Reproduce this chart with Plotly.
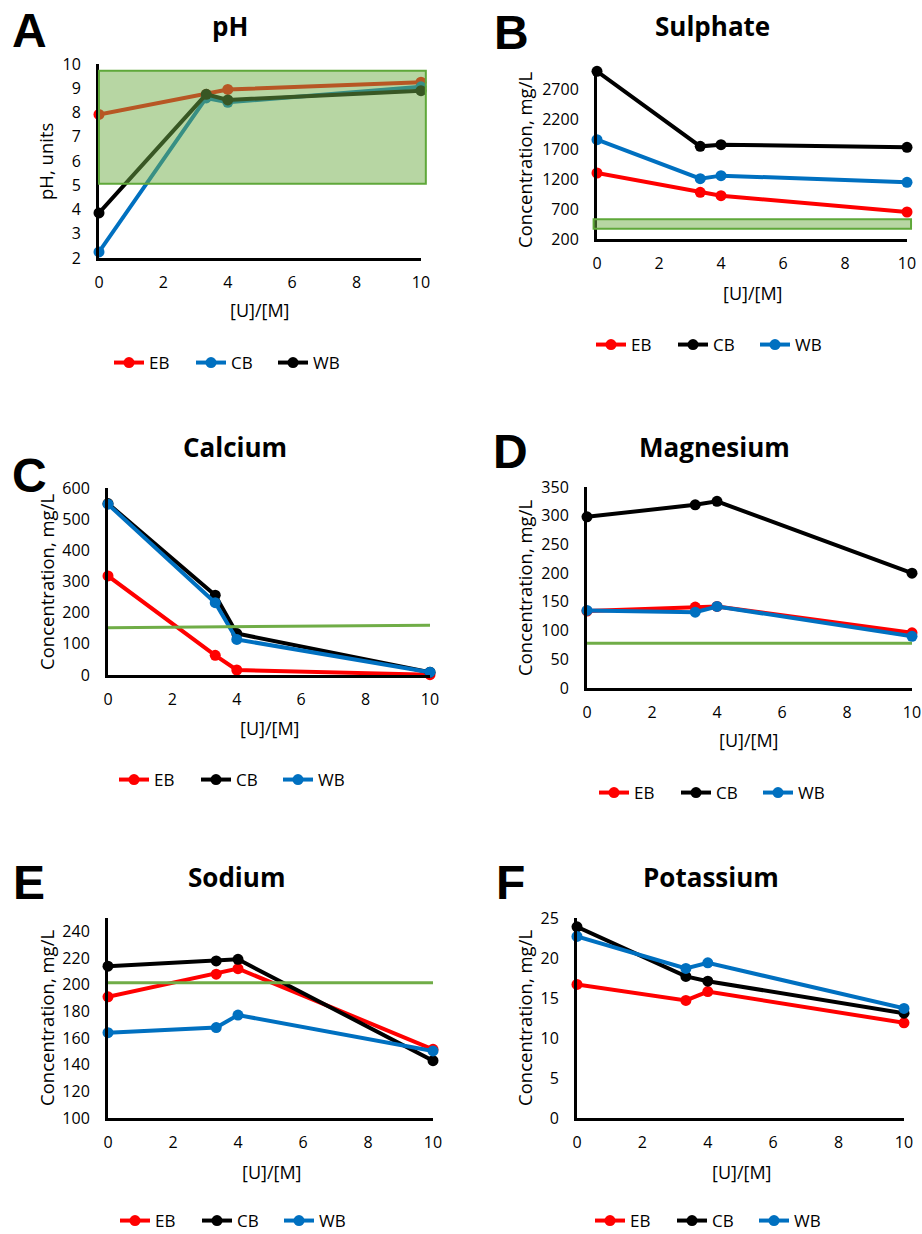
import plotly.graph_objects as go

W, H = 922, 1234
X = [0, 3.33, 4, 10]
SERIES = ["EB", "CB", "WB"]
XTICKS = [0, 2, 4, 6, 8, 10]

# Panel A - pH
ph_eb = [7.92, 8.75, 8.95, 9.25]
ph_cb = [2.25, 8.6, 8.42, 9.06]
ph_wb = [3.86, 8.75, 8.52, 8.9]
ph_band = [5.06, 9.72]
ph_ticks = [2, 3, 4, 5, 6, 7, 8, 9, 10]

# Panel B - Sulphate
so4_eb = [1300, 978, 922, 650]
so4_cb = [2994, 1744, 1772, 1728]
so4_wb = [1856, 1206, 1256, 1144]
so4_band = [370, 530]
so4_ticks = [200, 700, 1200, 1700, 2200, 2700]

# Panel C - Calcium
ca_eb = [318, 63, 16, 1]
ca_cb = [550, 256, 133, 9]
ca_wb = [548, 232, 114, 9]
ca_limit = [152, 160]
ca_ticks = [0, 100, 200, 300, 400, 500, 600]

# Panel D - Magnesium
mg_eb = [134, 141, 142, 96]
mg_cb = [298, 319, 325, 200]
mg_wb = [135, 132, 142, 90]
mg_limit = [78, 78]
mg_ticks = [0, 50, 100, 150, 200, 250, 300, 350]

# Panel E - Sodium
na_eb = [190.9, 207.9, 212.0, 151.5]
na_cb = [213.9, 217.8, 219.0, 143.0]
na_wb = [164.0, 167.8, 177.2, 150.3]
na_limit = [201.5, 201.5]
na_ticks = [100, 120, 140, 160, 180, 200, 220, 240]

# Panel F - Potassium
k_eb = [16.7, 14.7, 15.8, 11.9]
k_cb = [23.9, 17.7, 17.1, 13.1]
k_wb = [22.7, 18.7, 19.4, 13.7]
k_ticks = [0, 5, 10, 15, 20, 25]

RED, BLACK, BLUE, GREEN = "#ff0000", "#000000", "#0070c0", "#70ad47"
FONT = "Open Sans, Liberation Sans, Arial, sans-serif"

def px(x):
    return x / W

def py(y):
    return 1 - y / H

panels = [
    dict(letter="A", title="pH", ytitle="pH, units", vals=[ph_eb, ph_cb, ph_wb],
         colors=[RED, BLUE, BLACK], xd=(99, 421), yd=(258, 64), yr=[2, 10], yt=ph_ticks,
         lp=(29, 31), tp=(230, 26), xtp=(259, 310), ytp=(46, 162), lg=(232, 363)),
    dict(letter="B", title="Sulphate", ytitle="Concentration, mg/L", vals=[so4_eb, so4_cb, so4_wb],
         colors=[RED, BLACK, BLUE], xd=(597, 907), yd=(239, 68), yr=[200, 3050], yt=so4_ticks,
         lp=(511, 33), tp=(712, 26), xtp=(752, 293), ytp=(524, 160), lg=(714, 345)),
    dict(letter="C", title="Calcium", ytitle="Concentration, mg/L", vals=[ca_eb, ca_cb, ca_wb],
         colors=[RED, BLACK, BLUE], xd=(108, 430), yd=(675, 488), yr=[0, 600], yt=ca_ticks,
         lp=(29, 476), tp=(235, 447), xtp=(269, 728), ytp=(46, 582), lg=(237, 780)),
    dict(letter="D", title="Magnesium", ytitle="Concentration, mg/L", vals=[mg_eb, mg_cb, mg_wb],
         colors=[RED, BLACK, BLUE], xd=(587, 912), yd=(688, 487), yr=[0, 350], yt=mg_ticks,
         lp=(510, 452), tp=(714, 447), xtp=(748, 740), ytp=(524, 588), lg=(717, 793)),
    dict(letter="E", title="Sodium", ytitle="Concentration, mg/L", vals=[na_eb, na_cb, na_wb],
         colors=[RED, BLACK, BLUE], xd=(108, 433), yd=(1118, 918), yr=[100, 250], yt=na_ticks,
         lp=(29, 882), tp=(236, 877), xtp=(271, 1172), ytp=(46, 1018), lg=(238, 1221)),
    dict(letter="F", title="Potassium", ytitle="Concentration, mg/L", vals=[k_eb, k_cb, k_wb],
         colors=[RED, BLACK, BLUE], xd=(577, 904), yd=(1118, 918), yr=[0, 25], yt=k_ticks,
         lp=(510, 882), tp=(711, 877), xtp=(741, 1172), ytp=(524, 1018), lg=(713, 1221)),
]

fig = go.Figure()
layout = dict(width=W, height=H, margin=dict(l=0, r=0, t=0, b=0, autoexpand=False),
              template="none",
              paper_bgcolor="white", plot_bgcolor="white",
              font=dict(family=FONT, color="black", size=16),
              annotations=[], shapes=[])

def center_ann(text, pos, size, family=FONT, angle=0):
    return dict(text=text, x=px(pos[0]), y=py(pos[1]), xref="paper", yref="paper",
                xanchor="center", yanchor="middle", showarrow=False, textangle=angle,
                font=dict(size=size, family=family, color="black"))

for i, p in enumerate(panels, start=1):
    sx = "" if i == 1 else str(i)
    xa, ya = "x" + sx, "y" + sx
    lg = "legend" + sx
    for name, vals, col in zip(SERIES, p["vals"], p["colors"]):
        fig.add_trace(go.Scatter(
            x=X, y=vals, name=name, mode="lines+markers",
            line=dict(color=col, width=4), marker=dict(color=col, size=11),
            xaxis=xa, yaxis=ya, legend=lg, cliponaxis=False))
    axis_common = dict(showgrid=False, zeroline=False, showline=True, linecolor="black",
                       linewidth=3, ticks="", automargin=False, ticklabeloverflow="allow",
                       tickfont=dict(size=16, family=FONT, color="black"))
    layout["xaxis" + sx] = dict(axis_common, domain=[px(p["xd"][0]), px(p["xd"][1])],
                                range=[0, 10], tickvals=XTICKS, anchor=ya,
                                ticklabelstandoff=8)
    layout["yaxis" + sx] = dict(axis_common, domain=[py(p["yd"][0]), py(p["yd"][1])],
                                range=p["yr"], tickvals=p["yt"], anchor=xa,
                                ticklabelstandoff=12)
    layout[lg] = dict(orientation="h", x=px(p["lg"][0]), y=py(p["lg"][1]),
                      xanchor="center", yanchor="middle", bgcolor="rgba(0,0,0,0)",
                      font=dict(size=17, family=FONT, color="black"), itemclick=False,
                      entrywidth=37, borderwidth=0)
    ann = layout["annotations"]
    ann.append(center_ann("<b>%s</b>" % p["letter"], p["lp"], 48,
                          family="Liberation Sans, Arial, sans-serif"))
    ann.append(center_ann("<b>%s</b>" % p["title"], p["tp"], 26))
    ann.append(center_ann("[U]/[M]", p["xtp"], 18))
    ann.append(center_ann(p["ytitle"], p["ytp"], 18.5, angle=-90))

# Reference bands / limit lines
layout["shapes"].append(dict(type="rect", xref="x domain", yref="y", x0=0, x1=1.015,
                             y0=ph_band[0], y1=ph_band[1], layer="above",
                             fillcolor="rgba(112,173,71,0.5)", line=dict(color="#5fa83a", width=2)))
layout["shapes"].append(dict(type="rect", xref="x2 domain", yref="y2", x0=-0.011, x1=1.013,
                             y0=so4_band[0], y1=so4_band[1], layer="above",
                             fillcolor="rgba(112,173,71,0.5)", line=dict(color="#5fa83a", width=2)))
for xa, ya, lim in [("x3", "y3", ca_limit), ("x4", "y4", mg_limit), ("x5", "y5", na_limit)]:
    layout["shapes"].append(dict(type="line", xref=xa, yref=ya, x0=0, x1=10,
                                 y0=lim[0], y1=lim[1], layer="above",
                                 line=dict(color=GREEN, width=3)))

fig.update_layout(**layout)
fig.write_html("out.html", config={"displayModeBar": False},
               post_script="document.body.style.margin='0';document.body.style.overflow='hidden';")
